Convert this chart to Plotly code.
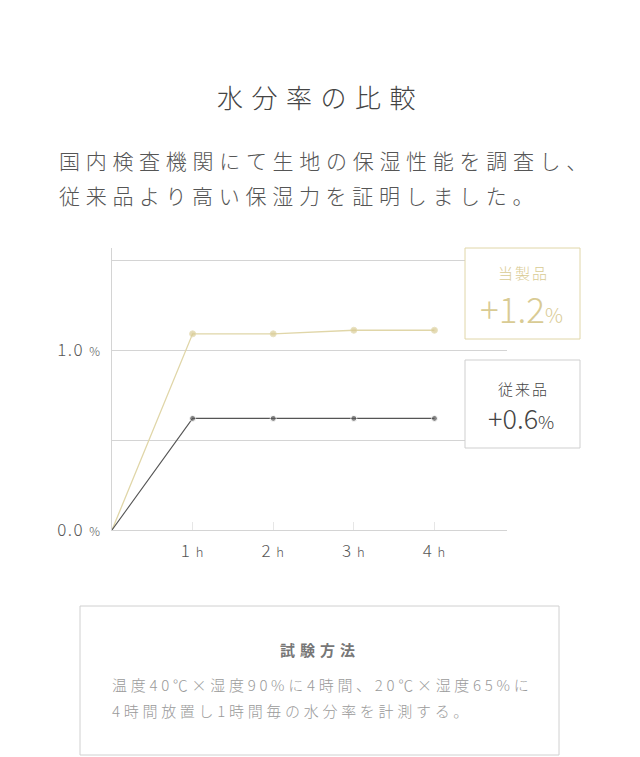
import plotly.graph_objects as go

# data
hours = [0, 1, 2, 3, 4]
ours = [0, 1.09, 1.09, 1.11, 1.11]
conventional = [0, 0.62, 0.62, 0.62, 0.62]
marker_sizes = [0, 6, 6, 6, 6]
x_ticks = [1, 2, 3, 4]
x_labels = ["1", "2", "3", "4"]
y_ticks = [0, 0.5, 1.0, 1.5]
y_labels = ["0.0", "", "1.0", ""]

GOLD = "#d9cb94"
GOLD_LINE = "#e0d6a8"
DARK = "#555555"
GRID = "#d4d4d4"
FONT = "Noto Sans CJK JP"

# plot area in pixels: left 112, right 507, top 248, bottom 530
L, R, T, B = 112, 507, 248, 530


def px(x):
    return (x - L) / (R - L)


def py(y):
    return (B - y) / (B - T)


def spaced(text, gap):
    return f"<span style='letter-spacing:{gap}px'>{text}</span>"


fig = go.Figure()
fig.add_trace(go.Scatter(x=hours, y=ours, mode="lines+markers",
                         line=dict(color=GOLD_LINE, width=1.3),
                         marker=dict(color=GOLD, size=marker_sizes),
                         hoverinfo="skip", showlegend=False))
fig.add_trace(go.Scatter(x=hours, y=conventional, mode="lines+markers",
                         line=dict(color=DARK, width=1.1),
                         marker=dict(color=DARK, size=marker_sizes),
                         hoverinfo="skip", showlegend=False))

fig.update_xaxes(range=[0, 4.9], tickvals=x_ticks,
                 ticktext=[spaced(f"{t} <span style='font-size:13px'>h</span>", 1) for t in x_labels],
                 showgrid=False, zeroline=False, showline=True, linecolor=GRID, linewidth=1,
                 ticks="inside", ticklen=8, tickcolor="#e6e6e6", tickwidth=1,
                 ticklabelstandoff=6,
                 tickfont=dict(family=FONT, size=17, color=DARK, weight=300), fixedrange=True)
fig.update_yaxes(range=[0, 1.567], tickvals=y_ticks,
                 ticktext=[spaced(f"{t} <span style='font-size:12px'>%</span>", 1.5) if t else "" for t in y_labels],
                 showgrid=True, gridcolor=GRID, gridwidth=1, zeroline=False,
                 showline=True, linecolor=GRID, linewidth=1, ticks="", ticklabelstandoff=6,
                 tickfont=dict(family=FONT, size=17, color=DARK, weight=300), fixedrange=True)

shapes = [
    # legend boxes (white fill hides gridlines behind them)
    dict(type="rect", xref="paper", yref="paper", x0=px(465), x1=px(580), y0=py(339), y1=py(248),
         line=dict(color=GOLD_LINE, width=1), fillcolor="white"),
    dict(type="rect", xref="paper", yref="paper", x0=px(465), x1=px(580), y0=py(448), y1=py(360),
         line=dict(color="#cfcfcf", width=1), fillcolor="white"),
    # test method box
    dict(type="rect", xref="paper", yref="paper", x0=px(80), x1=px(559), y0=py(755), y1=py(606),
         line=dict(color="#d0d0d0", width=1), fillcolor="white"),
]


def note(x, y, text, size, color, xanchor="center", weight=300):
    return dict(xref="paper", yref="paper", x=px(x), y=py(y), text=text, showarrow=False,
                xanchor=xanchor, yanchor="middle",
                font=dict(family=FONT, size=size, color=color, weight=weight))


annotations = [
    note(320, 96, spaced("水分率の比較", 8.5), 26, "#444444"),
    note(57, 160, spaced("国内検査機関にて生地の保湿性能を調査し、", 5.7), 21, "#555555", "left"),
    note(57, 195, spaced("従来品より高い保湿力を証明しました。", 5.7), 21, "#555555", "left"),
    note(523, 272, spaced("当製品", 2), 15, GOLD),
    note(521, 307, "+1.2<span style='font-size:20px'>%</span>", 35, GOLD, weight=200),
    note(523, 388, spaced("従来品", 2), 15, "#444444"),
    note(521, 417, "+0.6<span style='font-size:18px'>%</span>", 27, "#444444", weight=300),
    note(320, 649, spaced("試験方法", 5), 15, "#777777", weight=600),
    note(110, 684, spaced("温度40℃×湿度90%に4時間、20℃×湿度65%に", 3.7), 15, "#9a9a9a", "left"),
    note(110, 710, spaced("4時間放置し1時間毎の水分率を計測する。", 3.7), 15, "#9a9a9a", "left"),
]

fig.update_layout(width=640, height=757, margin=dict(l=L, r=640 - R, t=T, b=757 - B),
                  plot_bgcolor="white", paper_bgcolor="white",
                  shapes=shapes, annotations=annotations,
                  font=dict(family=FONT))

fig.write_html("out.html", config={"displayModeBar": False},
               post_script="document.body.style.margin='0';")
